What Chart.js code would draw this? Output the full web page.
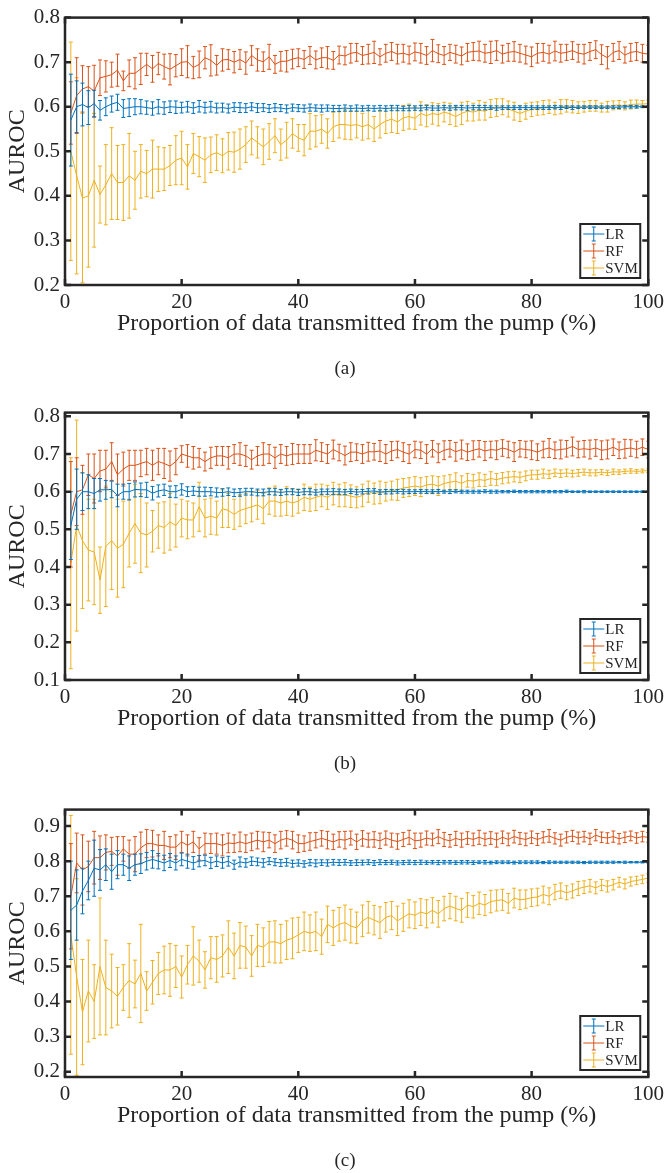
<!DOCTYPE html>
<html lang="en">
  <head>
    <meta charset="UTF-8" />
    <title>AUROC vs proportion of data transmitted</title>
    <script src="https://cdn.jsdelivr.net/npm/chart.js@4.4.1/dist/chart.umd.min.js"></script>
    <style>
      body { margin: 0; background: #fff; width: 669px; height: 1173px; position: relative; overflow: hidden; }
      .panel { position: absolute; left: 0; width: 669px; height: 360px; }
      .cap { position: absolute; width: 60px; margin-left: -30px; text-align: center;
             font-family: "Liberation Serif", serif; font-size: 19px; color: #262626; line-height: 20px; }
    </style>
  </head>
  <body>
    <div class="panel" style="top: 0px"><canvas id="chart-a" width="669" height="360"></canvas></div>
    <div class="panel" style="top: 395px"><canvas id="chart-b" width="669" height="360"></canvas></div>
    <div class="panel" style="top: 792px"><canvas id="chart-c" width="669" height="360"></canvas></div>
    <div class="cap" style="left: 345px; top: 358px">(a)</div>
    <div class="cap" style="left: 345px; top: 753px">(b)</div>
    <div class="cap" style="left: 345px; top: 1150px">(c)</div>

    <script>
      // x positions: proportion of data transmitted (%)
      const pct = [1,2,3,4,5,6,7,8,9,10,11,12,13,14,15,16,17,18,19,20,21,22,23,24,25,26,27,28,29,30,
        31,32,33,34,35,36,37,38,39,40,41,42,43,44,45,46,47,48,49,50,51,52,53,54,55,56,57,58,59,60,
        61,62,63,64,65,66,67,68,69,70,71,72,73,74,75,76,77,78,79,80,81,82,83,84,85,86,87,88,89,90,
        91,92,93,94,95,96,97,98,99,100];
      const seriesNames = ["LR", "RF", "SVM"];
      const xTicks = [0, 20, 40, 60, 80, 100];

      // ---- panel (a) ----
      const aLR = [0.570,0.600,0.605,0.598,0.607,0.592,0.600,0.606,0.610,0.596,
        0.598,0.600,0.600,0.598,0.596,0.600,0.597,0.600,0.599,0.598,
        0.600,0.597,0.601,0.598,0.600,0.597,0.598,0.596,0.599,0.598,
        0.597,0.600,0.597,0.598,0.596,0.598,0.597,0.595,0.598,0.597,
        0.596,0.598,0.597,0.596,0.597,0.596,0.596,0.597,0.596,0.597,
        0.596,0.597,0.596,0.597,0.596,0.597,0.597,0.596,0.597,0.597,
        0.597,0.598,0.597,0.597,0.598,0.597,0.598,0.598,0.597,0.598,
        0.598,0.598,0.598,0.597,0.598,0.598,0.598,0.598,0.598,0.598,
        0.598,0.598,0.598,0.599,0.598,0.599,0.598,0.599,0.599,0.599,
        0.599,0.599,0.599,0.599,0.599,0.600,0.600,0.600,0.600,0.600];
      const aLRerr = [0.103,0.058,0.048,0.038,0.030,0.022,0.020,0.018,0.018,0.020,
        0.020,0.018,0.016,0.015,0.015,0.016,0.014,0.013,0.014,0.012,
        0.012,0.012,0.013,0.012,0.012,0.011,0.010,0.010,0.010,0.011,
        0.010,0.009,0.010,0.009,0.009,0.009,0.008,0.009,0.008,0.008,
        0.008,0.008,0.007,0.008,0.007,0.007,0.007,0.007,0.006,0.007,
        0.006,0.006,0.006,0.006,0.006,0.006,0.006,0.005,0.006,0.005,
        0.006,0.005,0.005,0.005,0.005,0.005,0.005,0.005,0.005,0.005,
        0.005,0.005,0.004,0.005,0.004,0.004,0.004,0.004,0.004,0.004,
        0.004,0.004,0.004,0.004,0.004,0.003,0.004,0.003,0.003,0.003,
        0.003,0.003,0.003,0.003,0.003,0.003,0.003,0.003,0.002,0.002];
      const aRF = [0.586,0.625,0.640,0.645,0.635,0.665,0.668,0.672,0.682,0.658,
        0.675,0.675,0.685,0.695,0.685,0.697,0.690,0.684,0.692,0.700,
        0.701,0.688,0.695,0.710,0.704,0.693,0.705,0.706,0.700,0.706,
        0.698,0.715,0.705,0.701,0.712,0.695,0.702,0.702,0.707,0.710,
        0.706,0.715,0.705,0.710,0.710,0.704,0.716,0.714,0.720,0.722,
        0.715,0.718,0.722,0.712,0.720,0.724,0.718,0.720,0.716,0.723,
        0.720,0.715,0.726,0.719,0.715,0.722,0.718,0.714,0.722,0.724,
        0.725,0.720,0.722,0.726,0.718,0.722,0.724,0.720,0.716,0.712,
        0.720,0.722,0.718,0.725,0.720,0.722,0.726,0.720,0.718,0.724,
        0.728,0.717,0.710,0.722,0.726,0.716,0.722,0.724,0.720,0.718];
      const aRFerr = [0.070,0.085,0.052,0.045,0.058,0.040,0.035,0.028,0.036,0.022,
        0.030,0.035,0.035,0.025,0.030,0.025,0.028,0.035,0.025,0.030,
        0.036,0.025,0.030,0.025,0.035,0.022,0.025,0.022,0.024,0.022,
        0.025,0.022,0.025,0.022,0.028,0.020,0.022,0.024,0.022,0.020,
        0.020,0.020,0.020,0.022,0.025,0.020,0.020,0.020,0.022,0.020,
        0.020,0.022,0.025,0.018,0.020,0.020,0.022,0.020,0.020,0.020,
        0.022,0.020,0.025,0.020,0.020,0.018,0.020,0.020,0.020,0.020,
        0.022,0.020,0.025,0.022,0.020,0.020,0.022,0.020,0.020,0.022,
        0.022,0.020,0.020,0.022,0.020,0.018,0.020,0.020,0.022,0.020,
        0.020,0.022,0.025,0.020,0.020,0.018,0.020,0.020,0.020,0.020];
      const aSVM = [0.500,0.445,0.395,0.400,0.435,0.403,0.425,0.450,0.430,0.430,
        0.445,0.435,0.455,0.450,0.460,0.460,0.460,0.468,0.480,0.485,
        0.465,0.495,0.488,0.480,0.492,0.497,0.490,0.500,0.498,0.505,
        0.515,0.530,0.520,0.510,0.522,0.535,0.515,0.525,0.540,0.530,
        0.525,0.545,0.545,0.550,0.540,0.555,0.560,0.560,0.558,0.560,
        0.555,0.560,0.550,0.560,0.568,0.572,0.566,0.575,0.578,0.574,
        0.585,0.580,0.585,0.582,0.588,0.584,0.578,0.585,0.590,0.588,
        0.592,0.590,0.596,0.598,0.600,0.595,0.590,0.585,0.590,0.594,
        0.596,0.598,0.600,0.596,0.600,0.602,0.600,0.598,0.600,0.602,
        0.602,0.598,0.600,0.603,0.604,0.602,0.605,0.606,0.606,0.607];
      const aSVMerr = [0.245,0.220,0.190,0.160,0.150,0.064,0.090,0.103,0.083,0.085,
        0.095,0.065,0.060,0.052,0.065,0.050,0.048,0.045,0.055,0.060,
        0.050,0.045,0.045,0.050,0.040,0.040,0.038,0.042,0.045,0.045,
        0.040,0.038,0.035,0.040,0.040,0.038,0.035,0.040,0.033,0.030,
        0.035,0.040,0.035,0.032,0.033,0.033,0.030,0.033,0.032,0.030,
        0.030,0.032,0.028,0.030,0.028,0.030,0.026,0.028,0.028,0.025,
        0.026,0.025,0.024,0.025,0.022,0.024,0.022,0.025,0.022,0.020,
        0.022,0.020,0.020,0.020,0.018,0.018,0.020,0.018,0.018,0.016,
        0.015,0.016,0.015,0.014,0.016,0.014,0.014,0.013,0.012,0.012,
        0.012,0.010,0.012,0.010,0.010,0.009,0.010,0.009,0.008,0.008];

      // ---- panel (b) ----
      const bLR = [0.510,0.580,0.600,0.600,0.595,0.605,0.605,0.606,0.590,0.600,
        0.600,0.606,0.605,0.605,0.596,0.602,0.605,0.600,0.600,0.606,
        0.600,0.602,0.600,0.600,0.600,0.598,0.598,0.600,0.597,0.598,
        0.600,0.600,0.598,0.598,0.600,0.600,0.598,0.600,0.600,0.598,
        0.600,0.600,0.598,0.600,0.600,0.600,0.600,0.599,0.601,0.599,
        0.600,0.601,0.602,0.599,0.600,0.600,0.601,0.600,0.600,0.600,
        0.601,0.600,0.600,0.601,0.600,0.600,0.601,0.600,0.600,0.600,
        0.600,0.601,0.600,0.600,0.600,0.600,0.601,0.600,0.600,0.600,
        0.600,0.600,0.600,0.600,0.600,0.601,0.600,0.600,0.600,0.600,
        0.600,0.600,0.600,0.600,0.600,0.600,0.600,0.600,0.600,0.600];
      const bLRerr = [0.090,0.080,0.050,0.045,0.040,0.030,0.025,0.022,0.030,0.020,
        0.022,0.020,0.018,0.020,0.018,0.016,0.015,0.015,0.016,0.015,
        0.013,0.012,0.012,0.012,0.011,0.012,0.010,0.010,0.010,0.010,
        0.009,0.009,0.009,0.009,0.008,0.009,0.008,0.008,0.008,0.008,
        0.008,0.008,0.007,0.007,0.007,0.008,0.007,0.007,0.006,0.007,
        0.006,0.007,0.006,0.006,0.006,0.006,0.005,0.006,0.005,0.005,
        0.005,0.005,0.005,0.005,0.004,0.005,0.004,0.004,0.004,0.004,
        0.004,0.004,0.004,0.004,0.003,0.003,0.003,0.003,0.003,0.003,
        0.003,0.003,0.003,0.003,0.003,0.003,0.002,0.002,0.003,0.002,
        0.002,0.002,0.002,0.002,0.002,0.002,0.002,0.002,0.002,0.002];
      const bRF = [0.540,0.600,0.605,0.645,0.635,0.655,0.660,0.680,0.645,0.660,
        0.670,0.670,0.675,0.680,0.670,0.680,0.675,0.668,0.680,0.700,
        0.695,0.690,0.690,0.680,0.690,0.695,0.695,0.690,0.700,0.700,
        0.695,0.685,0.695,0.700,0.700,0.690,0.700,0.695,0.700,0.700,
        0.700,0.700,0.710,0.705,0.700,0.712,0.704,0.696,0.705,0.705,
        0.700,0.706,0.706,0.708,0.700,0.708,0.712,0.705,0.700,0.712,
        0.710,0.700,0.714,0.702,0.710,0.714,0.706,0.712,0.705,0.710,
        0.714,0.708,0.712,0.710,0.716,0.712,0.705,0.714,0.712,0.710,
        0.705,0.712,0.716,0.710,0.712,0.714,0.720,0.712,0.714,0.712,
        0.716,0.710,0.712,0.718,0.710,0.714,0.716,0.712,0.718,0.712];
      const bRFerr = [0.140,0.090,0.065,0.055,0.065,0.055,0.050,0.050,0.055,0.045,
        0.040,0.040,0.035,0.035,0.040,0.035,0.040,0.040,0.035,0.022,
        0.030,0.030,0.025,0.025,0.028,0.025,0.025,0.030,0.025,0.030,
        0.028,0.025,0.025,0.030,0.025,0.028,0.025,0.025,0.028,0.025,
        0.025,0.025,0.028,0.025,0.025,0.025,0.022,0.025,0.025,0.022,
        0.025,0.025,0.022,0.028,0.025,0.025,0.022,0.025,0.025,0.022,
        0.022,0.025,0.022,0.025,0.025,0.022,0.025,0.025,0.022,0.025,
        0.022,0.025,0.022,0.025,0.022,0.022,0.025,0.022,0.022,0.025,
        0.022,0.022,0.025,0.022,0.025,0.022,0.025,0.022,0.022,0.025,
        0.022,0.025,0.025,0.022,0.022,0.025,0.022,0.022,0.022,0.022];
      const bSVM = [0.410,0.510,0.470,0.445,0.440,0.365,0.455,0.470,0.450,0.460,
        0.490,0.515,0.490,0.485,0.495,0.510,0.505,0.520,0.510,0.530,
        0.525,0.525,0.560,0.530,0.535,0.530,0.555,0.550,0.540,0.550,
        0.555,0.560,0.565,0.555,0.575,0.575,0.570,0.575,0.570,0.575,
        0.585,0.580,0.585,0.590,0.585,0.595,0.590,0.592,0.588,0.585,
        0.590,0.600,0.595,0.598,0.600,0.603,0.605,0.610,0.612,0.615,
        0.612,0.618,0.620,0.615,0.622,0.625,0.628,0.622,0.630,0.628,
        0.632,0.630,0.635,0.632,0.636,0.638,0.640,0.638,0.642,0.645,
        0.645,0.648,0.646,0.650,0.648,0.650,0.648,0.650,0.652,0.650,
        0.650,0.652,0.650,0.653,0.652,0.654,0.655,0.654,0.655,0.656];
      const bSVMerr = [0.280,0.280,0.180,0.135,0.140,0.088,0.160,0.130,0.130,0.115,
        0.090,0.105,0.105,0.085,0.055,0.060,0.068,0.075,0.057,0.050,
        0.050,0.045,0.065,0.050,0.048,0.045,0.050,0.045,0.040,0.042,
        0.040,0.040,0.038,0.040,0.035,0.040,0.035,0.038,0.035,0.032,
        0.035,0.032,0.035,0.030,0.032,0.030,0.030,0.032,0.030,0.028,
        0.030,0.028,0.028,0.030,0.025,0.025,0.028,0.025,0.025,0.025,
        0.025,0.022,0.022,0.025,0.020,0.020,0.022,0.020,0.018,0.018,
        0.018,0.016,0.018,0.016,0.015,0.015,0.014,0.014,0.013,0.012,
        0.012,0.012,0.011,0.010,0.010,0.010,0.009,0.009,0.008,0.008,
        0.008,0.007,0.007,0.007,0.006,0.006,0.006,0.005,0.005,0.005];

      // ---- panel (c) ----
      const cLR = [0.660,0.675,0.715,0.745,0.780,0.775,0.790,0.770,0.790,0.790,
        0.780,0.790,0.793,0.800,0.805,0.800,0.795,0.802,0.795,0.805,
        0.800,0.795,0.800,0.802,0.795,0.800,0.795,0.800,0.790,0.798,
        0.795,0.800,0.798,0.795,0.800,0.797,0.795,0.797,0.793,0.795,
        0.792,0.796,0.794,0.796,0.795,0.797,0.796,0.797,0.795,0.796,
        0.796,0.797,0.795,0.797,0.796,0.797,0.795,0.796,0.797,0.796,
        0.797,0.796,0.797,0.796,0.797,0.797,0.796,0.797,0.797,0.796,
        0.797,0.797,0.796,0.797,0.797,0.797,0.796,0.797,0.797,0.797,
        0.797,0.796,0.797,0.797,0.797,0.797,0.797,0.797,0.796,0.797,
        0.797,0.797,0.797,0.797,0.797,0.797,0.797,0.797,0.797,0.797];
      const cLRerr = [0.140,0.100,0.065,0.055,0.080,0.058,0.045,0.050,0.040,0.030,
        0.035,0.030,0.028,0.025,0.025,0.022,0.022,0.020,0.020,0.018,
        0.020,0.018,0.016,0.015,0.016,0.015,0.015,0.014,0.013,0.014,
        0.012,0.012,0.011,0.012,0.010,0.010,0.010,0.011,0.010,0.009,
        0.009,0.009,0.010,0.008,0.009,0.008,0.008,0.008,0.007,0.008,
        0.007,0.007,0.007,0.007,0.006,0.006,0.006,0.006,0.006,0.006,
        0.006,0.005,0.005,0.006,0.005,0.005,0.005,0.005,0.005,0.005,
        0.004,0.005,0.004,0.004,0.004,0.004,0.004,0.004,0.004,0.004,
        0.004,0.003,0.004,0.003,0.003,0.003,0.003,0.003,0.003,0.003,
        0.003,0.003,0.003,0.003,0.002,0.003,0.002,0.002,0.002,0.002];
      const cRF = [0.700,0.795,0.775,0.785,0.810,0.810,0.825,0.828,0.815,0.835,
        0.820,0.820,0.838,0.850,0.850,0.845,0.845,0.840,0.840,0.855,
        0.845,0.855,0.835,0.850,0.850,0.850,0.845,0.852,0.850,0.855,
        0.850,0.855,0.860,0.855,0.860,0.850,0.860,0.865,0.860,0.850,
        0.850,0.856,0.860,0.865,0.860,0.855,0.862,0.860,0.866,0.855,
        0.865,0.860,0.862,0.858,0.866,0.860,0.856,0.862,0.868,0.858,
        0.860,0.866,0.862,0.870,0.862,0.858,0.865,0.860,0.866,0.862,
        0.868,0.862,0.866,0.860,0.868,0.862,0.870,0.865,0.862,0.868,
        0.862,0.868,0.872,0.865,0.860,0.868,0.872,0.866,0.870,0.864,
        0.874,0.868,0.866,0.870,0.864,0.868,0.872,0.866,0.870,0.868];
      const cRFerr = [0.150,0.085,0.100,0.072,0.075,0.062,0.050,0.040,0.055,0.035,
        0.040,0.050,0.045,0.040,0.038,0.030,0.040,0.030,0.035,0.030,
        0.030,0.030,0.032,0.030,0.028,0.030,0.030,0.028,0.025,0.028,
        0.025,0.025,0.025,0.028,0.022,0.025,0.025,0.022,0.025,0.025,
        0.022,0.025,0.022,0.022,0.025,0.022,0.022,0.025,0.020,0.022,
        0.022,0.020,0.022,0.022,0.020,0.020,0.022,0.020,0.020,0.022,
        0.020,0.020,0.018,0.020,0.020,0.018,0.020,0.020,0.018,0.018,
        0.020,0.018,0.018,0.020,0.018,0.018,0.018,0.017,0.018,0.018,
        0.017,0.016,0.018,0.016,0.017,0.016,0.016,0.017,0.015,0.016,
        0.016,0.015,0.015,0.016,0.015,0.015,0.014,0.015,0.015,0.014];
      const cSVM = [0.590,0.470,0.370,0.430,0.400,0.500,0.440,0.430,0.415,0.440,
        0.460,0.450,0.480,0.430,0.455,0.480,0.490,0.490,0.500,0.470,
        0.505,0.530,0.515,0.490,0.525,0.520,0.530,0.555,0.530,0.560,
        0.555,0.530,0.560,0.555,0.570,0.570,0.565,0.575,0.580,0.590,
        0.600,0.595,0.600,0.585,0.620,0.610,0.620,0.625,0.615,0.610,
        0.630,0.640,0.632,0.625,0.640,0.645,0.630,0.640,0.650,0.646,
        0.655,0.650,0.660,0.650,0.665,0.672,0.665,0.660,0.675,0.670,
        0.680,0.675,0.685,0.688,0.690,0.680,0.695,0.690,0.692,0.696,
        0.698,0.705,0.700,0.712,0.716,0.710,0.715,0.722,0.726,0.730,
        0.724,0.732,0.728,0.733,0.740,0.735,0.742,0.745,0.748,0.752];
      const cSVMerr = [0.340,0.280,0.150,0.145,0.105,0.195,0.135,0.105,0.082,0.065,
        0.105,0.068,0.140,0.055,0.062,0.060,0.068,0.075,0.060,0.060,
        0.055,0.083,0.060,0.052,0.060,0.065,0.060,0.075,0.065,0.065,
        0.060,0.058,0.060,0.055,0.058,0.060,0.055,0.055,0.058,0.050,
        0.055,0.052,0.055,0.050,0.052,0.050,0.048,0.050,0.048,0.045,
        0.045,0.045,0.042,0.045,0.042,0.040,0.042,0.040,0.040,0.038,
        0.038,0.040,0.036,0.038,0.035,0.036,0.035,0.034,0.035,0.032,
        0.032,0.030,0.032,0.030,0.030,0.028,0.028,0.028,0.026,0.025,
        0.025,0.024,0.024,0.022,0.022,0.020,0.020,0.020,0.018,0.018,
        0.017,0.016,0.016,0.015,0.014,0.014,0.013,0.012,0.012,0.012];

      const colors = ["#0072BD", "#D95319", "#EDB120"];
      const axisColor = "#262626";
      const serif = "'Liberation Serif', 'Times New Roman', serif";

      // draws the error bars of each dataset right after its line
      const errorBars = {
        id: "errorBars",
        afterDatasetDraw(chart, args) {
          const ds = chart.data.datasets[args.index];
          const y = chart.scales.y;
          const area = chart.chartArea;
          const ctx = chart.ctx;
          ctx.save();
          ctx.beginPath();
          ctx.rect(area.left, area.top, area.right - area.left, area.bottom - area.top);
          ctx.clip();
          ctx.strokeStyle = ds.borderColor;
          ctx.lineWidth = 1;
          ctx.beginPath();
          args.meta.data.forEach((pt, i) => {
            const v = ds.data[i].y;
            const e = ds.err[i];
            const top = y.getPixelForValue(v + e);
            const bot = y.getPixelForValue(v - e);
            ctx.moveTo(pt.x, top);
            ctx.lineTo(pt.x, bot);
            ctx.moveTo(pt.x - 2, top);
            ctx.lineTo(pt.x + 2, top);
            ctx.moveTo(pt.x - 2, bot);
            ctx.lineTo(pt.x + 2, bot);
          });
          ctx.stroke();
          ctx.restore();
        },
      };

      // MATLAB style box, inward ticks and legend
      const boxAndLegend = {
        id: "boxAndLegend",
        afterDraw(chart) {
          const { ctx, chartArea: a, scales } = chart;
          ctx.save();
          ctx.strokeStyle = axisColor;
          ctx.lineWidth = 2.5;
          ctx.strokeRect(a.left, a.top, a.right - a.left, a.bottom - a.top);
          ctx.beginPath();
          scales.x.ticks.forEach((t) => {
            const px = scales.x.getPixelForValue(t.value);
            ctx.moveTo(px, a.bottom); ctx.lineTo(px, a.bottom - 6);
            ctx.moveTo(px, a.top); ctx.lineTo(px, a.top + 6);
          });
          scales.y.ticks.forEach((t) => {
            const py = scales.y.getPixelForValue(t.value);
            ctx.moveTo(a.left, py); ctx.lineTo(a.left + 6, py);
            ctx.moveTo(a.right, py); ctx.lineTo(a.right - 6, py);
          });
          ctx.stroke();

          // legend box
          const bw = 60, bh = 54;
          const bx = a.right - 68, by = a.bottom - 7 - bh;
          ctx.fillStyle = "#fff";
          ctx.fillRect(bx, by, bw, bh);
          ctx.lineWidth = 2;
          ctx.strokeRect(bx, by, bw, bh);
          ctx.font = "15px " + serif;
          ctx.textBaseline = "middle";
          chart.data.datasets.forEach((ds, i) => {
            const ry = by + 10 + i * 17;
            ctx.strokeStyle = ds.borderColor;
            ctx.lineWidth = 1;
            ctx.beginPath();
            ctx.moveTo(bx + 3, ry); ctx.lineTo(bx + 24, ry);
            ctx.moveTo(bx + 13.5, ry - 7); ctx.lineTo(bx + 13.5, ry + 7);
            ctx.moveTo(bx + 11.5, ry - 7); ctx.lineTo(bx + 15.5, ry - 7);
            ctx.moveTo(bx + 11.5, ry + 7); ctx.lineTo(bx + 15.5, ry + 7);
            ctx.stroke();
            ctx.fillStyle = axisColor;
            ctx.fillText(ds.label, bx + 25, ry + 1);
          });
          ctx.restore();
        },
      };

      function makePanel(id, series, errs, yMin, yMax) {
        const datasets = series.map((vals, i) => ({
          label: seriesNames[i],
          data: pct.map((x, j) => ({ x: x, y: vals[j] })),
          err: errs[i],
          borderColor: colors[i],
          borderWidth: 1,
          pointRadius: 0,
          tension: 0,
          fill: false,
        }));
        return new Chart(document.getElementById(id), {
          type: "line",
          data: { datasets },
          options: {
            responsive: false,
            animation: false,
            devicePixelRatio: 1,
            layout: { padding: { left: 0, top: 13, right: 14, bottom: 0 } },
            plugins: { legend: { display: false }, tooltip: { enabled: false } },
            scales: {
              x: {
                type: "linear",
                min: 0,
                max: 100,
                afterFit: (axis) => { axis.height = 75; },
                afterBuildTicks: (axis) => { axis.ticks = xTicks.map((v) => ({ value: v })); },
                grid: { display: false, drawTicks: false },
                border: { display: false },
                ticks: { padding: 5, color: axisColor, font: { family: serif, size: 21 } },
                title: {
                  display: true,
                  text: "Proportion of data transmitted from the pump (%)",
                  color: axisColor,
                  font: { family: serif, size: 24 },
                  padding: { top: 0, bottom: 22 },
                },
              },
              y: {
                type: "linear",
                min: yMin,
                max: yMax,
                afterFit: (axis) => { axis.width = 65; },
                grid: { display: false, drawTicks: false },
                border: { display: false },
                ticks: {
                  stepSize: 0.1,
                  includeBounds: false,
                  padding: 5,
                  color: axisColor,
                  font: { family: serif, size: 21 },
                  callback: (v) => v.toFixed(1),
                },
                title: {
                  display: true,
                  text: "AUROC",
                  color: axisColor,
                  font: { family: serif, size: 24 },
                  padding: { top: 3, bottom: 0 },
                },
              },
            },
          },
          plugins: [errorBars, boxAndLegend],
        });
      }

      makePanel("chart-a", [aLR, aRF, aSVM], [aLRerr, aRFerr, aSVMerr], 0.2, 0.8);
      makePanel("chart-b", [bLR, bRF, bSVM], [bLRerr, bRFerr, bSVMerr], 0.1, 0.81);
      makePanel("chart-c", [cLR, cRF, cSVM], [cLRerr, cRFerr, cSVMerr], 0.185, 0.947);
    </script>
  </body>
</html>
